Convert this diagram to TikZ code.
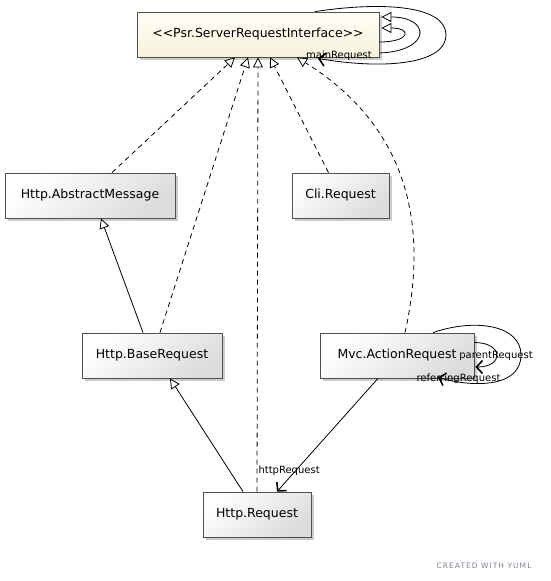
\documentclass[tikz,border=0pt]{standalone}
\usepackage{fontspec}
\setmainfont{DejaVu Sans}
\usepackage{xcolor}
\usetikzlibrary{positioning,arrows.meta,shadows}

\definecolor{boxline}{HTML}{505050}
\definecolor{boxdark}{HTML}{DCDCDC}
\definecolor{ifacelite}{HTML}{FFFEF6}
\definecolor{ifacedark}{HTML}{F8F1DC}
\definecolor{yumlgray}{HTML}{7A8294}

\begin{document}
\begin{tikzpicture}[x=1pt, y=-1pt, line width=0.8pt,
  cls/.style={draw=boxline, minimum height=45pt, inner xsep=0pt,
              font=\fontsize{12.5}{14}\selectfont,
              top color=white, bottom color=#1, shading angle=40,
              drop shadow={shadow xshift=3pt, shadow yshift=-3pt, fill=black!40, opacity=.5}},
  cls/.default=boxdark,
  real/.style={dash pattern=on 5pt off 4pt, -{Triangle[open, length=10pt, width=10pt, fill=white]}},
  ext/.style={-{Triangle[open, length=10pt, width=10pt, fill=white]}},
  assoc/.style={-{Straight Barb[length=6pt, width=13pt, line width=1.6pt]}},
  lbl/.style={font=\fontsize{10}{12}\selectfont, inner sep=0pt}
]
  \useasboundingbox (0,0) rectangle (550,581);

  % classes
  \node[cls=ifacedark, top color=ifacelite, minimum width=242pt] (psr) at (258,34.5) {{<}{<}Psr.ServerRequestInterface{>}{>}};
  \node[cls, minimum width=170pt] (abs) at (90,195.5) {Http.AbstractMessage};
  \node[cls, minimum width=97pt] (cli) at (340.5,195.5) {Cli.Request};
  \node[cls, minimum width=140pt] (base) at (152,355.5) {Http.BaseRequest};
  \node[cls, minimum width=154pt] (mvc) at (397,355.5) {Mvc.ActionRequest};
  \node[cls, minimum width=108pt] (req) at (257,514.5) {Http.Request};

  % implementations of the interface
  \draw[real] ([xshift=22pt]abs.north) -- ([xshift=-23pt]psr.south);
  \draw[real] ([xshift=8pt]base.north) -- ([xshift=-10pt]psr.south);
  \draw[real] (req.north) -- (psr.south);
  \draw[real] ([xshift=-12pt]cli.north) -- ([xshift=12pt]psr.south);
  \draw[real] ([xshift=8pt]mvc.north) .. controls (430,220) and (405,125) .. ([xshift=39pt]psr.south);

  % inheritance
  \draw[ext] ([xshift=-9pt]base.north) -- ([xshift=11pt]abs.south);
  \draw[ext] ([xshift=-14pt]req.north) -- ([xshift=18pt]base.south);

  % self references of the interface
  \draw[ext] ([yshift=-7.5pt]psr.east) .. controls +(31,0) and +(31,0) .. ([xshift=2pt, yshift=6.5pt]psr.east);
  \draw[ext] ([yshift=-18.5pt]psr.east) .. controls +(52,-2) and +(50,0) .. ([xshift=2pt, yshift=17.5pt]psr.east);
  \draw[assoc] ([xshift=57pt]psr.north) .. controls (385,1) and (446,6) .. (446,35)
    .. controls (446,64) and (385,70) .. ([xshift=60pt, yshift=-1pt]psr.south);
  \node[lbl] (mainlbl) at (339,56) {mainRequest};

  % associations of the action request
  \draw[assoc] ([xshift=-19pt]mvc.south) -- ([xshift=20pt]req.north)
    node[lbl, pos=0.88, above=2pt] (httplbl) {httpRequest};
  \draw[assoc] ([yshift=13pt]mvc.east) .. controls +(29,0) and +(29,0) .. ([xshift=1pt, yshift=-11.5pt]mvc.east);
  \draw[assoc] ([xshift=36pt]mvc.north) .. controls (475,318) and (521,325) .. (521,355)
    .. controls (521,387) and (475,388) .. ([xshift=41pt, yshift=1pt]mvc.south);
  \node[lbl] (parentlbl) at (496,356) {parentRequest};
  \node[lbl] (referlbl) at (458.5,379) {referringRequest};

  % footer
  \node[font=\fontsize{7.5}{9}\selectfont\addfontfeatures{LetterSpace=14}, text=yumlgray, inner sep=0pt] (yuml) at (484,566) {CREATED WITH YUML};
\end{tikzpicture}
\end{document}
